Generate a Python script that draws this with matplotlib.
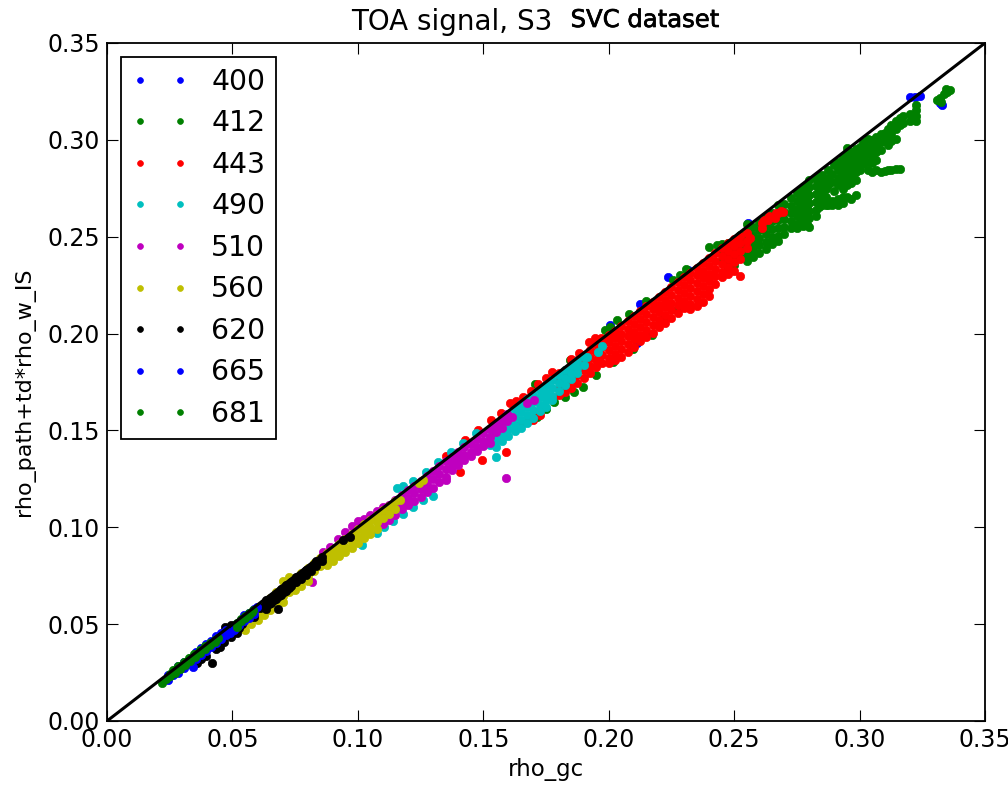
import matplotlib
matplotlib.use('Agg')
from matplotlib import pyplot as plt
from matplotlib import patheffects

labels = ['400', '412', '443', '490', '510', '560', '620', '665', '681']
colors = ['#0000ff', '#008000', '#ff0000', '#00bfbf', '#bf00bf', '#bfbf00', 'k', '#0000ff', '#008000']

# values: dense parts as (rho_gc, [rho_path+td*rho_w_IS ...]) columns, stray dots as (x, y)
cols_400 = [(.320,[.3221]),(.322,[.3221]),(.324,[.3225]),(.3329,[.318]),(.332,[.319]),(.2555,[.2571]),(.2236,[.2292]),
            (.2005,[.2044]),(.2113,[.1951]),(.2316,[.2328]),(.295,[.2922]),(.2125,[.2155])]

cols_412 = [(.1706,[.174]),(.1846,[.1864]),(.1985,[.2018]),(.2033,[.207]),(.2284,[.2302]),(.215,[.217]),(.208,[.210]),
            (.2255,[.2275]),(.231,[.2335]),(.2005,[.2035]),
            (.243,[.2457]),(.240,[.2445]),(.1714,[.157]),(.175,[.161]),(.178,[.1645]),(.1825,[.167]),(.186,[.170]),
            (.1897,[.1724]),(.195,[.1785]),(.2017,[.1853]),(.2095,[.192]),(.2173,[.1993]),(.2272,[.2122]),(.2215,[.2075]),
            (.245,[.246,.242,.238]),
            (.2475,[.2465,.2425,.2385,.2345]),
            (.250,[.2475,.2435,.2395,.2355]),
            (.2525,[.251,.247,.243,.239]),
            (.255,[.2565,.2525,.2485,.2445,.2405,.2375]),
            (.2575,[.255,.251,.247,.243,.2395]),
            (.260,[.2575,.2535,.2495,.2455,.2415]),
            (.2625,[.2595,.2555,.2515,.2475,.2435]),
            (.265,[.262,.258,.254,.250,.246]),
            (.2675,[.2665,.2625,.2585,.2545,.2505,.248]),
            (.270,[.267,.263,.259,.255,.2515]),
            (.2725,[.27,.266,.262,.258,.2545]),
            (.275,[.2725,.2685,.2645,.2605,.2565,.2545]),
            (.2765,[.2735,.2695,.2655,.2615,.2575]),
            (.2775,[.2755,.2715,.2675,.2635,.2595,.2555]),
            (.279,[.277,.273,.269,.265,.261,.2565]),
            (.280,[.2795,.2755,.2715,.2675,.2635,.2595,.255]),
            (.2825,[.28,.276,.272,.268,.264,.2605]),
            (.284,[.2815,.2775,.2735,.2695,.2655]),
            (.285,[.282,.278,.274,.270,.2665]),
            (.2875,[.2845,.2805,.2765,.2665]),
            (.2865,[.2785,.2745,.2705,.2665]),
            (.289,[.2825,.2785,.2665,.2685]),
            (.2915,[.2885,.2845,.2805,.2765,.2665,.2695]),
            (.290,[.2735,.287]),
            (.2935,[.2905,.2865,.2825,.2785,.2745,.2675,.2705]),
            (.295,[.296,.292,.288,.284,.280,.2765,.2705]),
            (.2965,[.2935,.2895,.2855,.2815,.2775,.2695]),
            (.2985,[.2955,.2915,.2875,.2835,.2795,.2715]),
            (.300,[.2965,.2925,.2885,.2845]),
            (.3015,[.299,.295,.291,.2875]),
            (.3035,[.3005,.2965,.2925,.2885,.2845]),
            (.305,[.30,.296,.292,.288,.2835]),
            (.3065,[.3015,.2975,.2935,.2895,.2845]),
            (.3085,[.303,.299,.295,.2835]),
            (.310,[.3035,.2995,.284]),
            (.3115,[.3055,.3015,.2975,.2845]),
            (.3125,[.3075,.3035,.2995,.2845]),
            (.3145,[.3095,.3055,.3005,.285]),
            (.316,[.3115,.3075,.285]),
            (.3175,[.3125,.3085]),
            (.320,[.3135,.3095]),
            (.3225,[.318,.3154,.3125,.3095]),
            (.3349,[.3247]),(.3335,[.3235]),(.332,[.3215]),(.331,[.3206]),(.3325,[.3195]),(.3345,[.326]),(.336,[.3255])]

cols_443 = [(.1674,[.1544]),(.170,[.1555]),(.1726,[.158]),(.1645,[.153]),(.1607,[.1642]),(.163,[.165]),(.166,[.167]),
            (.169,[.1705]),(.172,[.174]),(.175,[.177]),(.1774,[.1802]),(.185,[.187]),(.188,[.190]),(.1945,[.1977]),
            (.192,[.1955]),(.197,[.1975]),(.1495,[.1347]),(.159,[.1389]),(.1407,[.1285]),(.1427,[.145]),(.148,[.150]),
            (.153,[.1555]),(.135,[.137]),(.157,[.159]),
            (.180,[.1795,.1755,.1715,.1685]),
            (.1825,[.181,.177,.173,.170]),
            (.185,[.184,.180,.176,.172]),
            (.1875,[.1865,.1825,.1785,.1745]),
            (.190,[.189,.185,.181,.177]),
            (.1925,[.1915,.1875,.1835,.1795]),
            (.195,[.1945,.1905,.1865,.1825]),
            (.1975,[.197,.193,.189,.185]),
            (.200,[.1995,.1955,.1915,.1875,.185]),
            (.2025,[.2015,.1975,.1935,.1895,.1865]),
            (.205,[.204,.200,.196,.192,.188]),
            (.2075,[.2065,.2025,.1985,.1945,.1905]),
            (.210,[.209,.205,.201,.197,.193]),
            (.2125,[.2115,.2075,.2035,.1995,.196]),
            (.215,[.214,.210,.206,.202,.198]),
            (.2175,[.2165,.2125,.2085,.2045,.2005]),
            (.220,[.219,.215,.211,.207,.2035]),
            (.2225,[.2215,.2175,.2135,.2095,.2055]),
            (.225,[.224,.220,.216,.212,.208]),
            (.2275,[.2265,.2225,.2185,.2145,.2105]),
            (.230,[.229,.225,.221,.217,.213]),
            (.2325,[.2315,.2275,.2235,.2195,.2155,.2125]),
            (.235,[.234,.230,.226,.222,.218,.214]),
            (.2375,[.2365,.2325,.2285,.2245,.2205,.2165]),
            (.240,[.239,.235,.231,.227,.223,.2195]),
            (.2425,[.2415,.2375,.2335,.2295,.2255]),
            (.245,[.244,.240,.236,.232,.229]),
            (.2475,[.2465,.2425,.2385,.2345,.231]),
            (.250,[.249,.245,.241,.237,.2325]),
            (.2525,[.2505,.2465,.2425,.2385,.2295]),
            (.255,[.252,.248,.244]),
            (.2563,[.2493]),
            (.2695,[.2628]),(.2663,[.2597]),(.2675,[.2625]),(.2635,[.2585]),(.261,[.257,.2545]),(.2665,[.2625]),
            (.264,[.2605]),(.262,[.2585]),(.2685,[.2635])]

cols_490 = [(.1525,[.1505,.1465,.1425]),
            (.155,[.153,.149,.145,.1415]),
            (.1575,[.156,.152,.148,.1445]),
            (.160,[.1585,.1545,.1505,.147]),
            (.1625,[.161,.157,.153,.1495]),
            (.165,[.1635,.1595,.1555,.1515]),
            (.1675,[.166,.162,.158,.154]),
            (.170,[.1685,.1645,.1605,.1565]),
            (.1725,[.171,.167,.163,.160]),
            (.175,[.1735,.1695,.1655,.162]),
            (.1775,[.176,.172,.168,.1655]),
            (.180,[.1785,.1745,.1705]),
            (.1825,[.181,.177,.1735]),
            (.185,[.1835,.1795,.1765]),
            (.1875,[.186,.182,.1795]),
            (.190,[.188,.184]),
            (.1913,[.1879]),(.1973,[.1935]),(.1957,[.1905]),(.155,[.1363]),
            (.1156,[.1203]),(.118,[.1215]),(.122,[.124]),(.127,[.1285]),(.132,[.1335]),(.137,[.139]),(.142,[.1435]),
            (.147,[.1485]),(.1076,[.097]),(.1017,[.0909]),(.1105,[.100]),(.114,[.1035]),(.118,[.107]),(.122,[.1105]),
            (.126,[.114]),(.13,[.1161]),(.128,[.1185])]

cols_510 = [(.1614,[.157]),(.1595,[.155,.1585]),
            (.1575,[.1555,.1515]),
            (.155,[.153,.149]),
            (.1525,[.1505,.1465,.1435]),
            (.150,[.1485,.1445,.142]),
            (.1475,[.1455,.1415,.1395]),
            (.145,[.143,.139,.137]),
            (.1425,[.1415,.1375,.1345]),
            (.140,[.139,.135,.132]),
            (.1375,[.1365,.1325,.1295]),
            (.135,[.134,.130,.126,.1245]),
            (.1325,[.1315,.1275,.1235]),
            (.130,[.129,.125,.1205]),
            (.1275,[.1265,.1225,.118]),
            (.125,[.124,.120,.1155]),
            (.1225,[.1215,.1175,.1135]),
            (.120,[.119,.115,.1115]),
            (.1175,[.1165,.1125,.1095]),
            (.115,[.114,.110,.1065]),
            (.1125,[.1115,.1075,.104]),
            (.110,[.1105,.1065,.1015]),
            (.1075,[.1085,.1045]),
            (.105,[.1065]),(.1025,[.1045]),(.100,[.1035]),(.0975,[.1005]),(.095,[.0975]),(.092,[.094]),(.089,[.090]),
            (.086,[.0875]),(.1674,[.1642]),(.1702,[.1657]),(.159,[.1254]),(.0817,[.0718])]

cols_560 = [(.126,[.1244]),(.1245,[.123]),(.1168,[.1141]),
            (.115,[.1135,.1095]),
            (.1125,[.111,.107]),
            (.110,[.109,.105]),
            (.1075,[.1065,.1025,.099]),
            (.105,[.104,.100,.0965]),
            (.1025,[.1015,.0975,.0945]),
            (.100,[.099,.095,.092]),
            (.0975,[.0965,.0925,.0895]),
            (.095,[.094,.090,.087]),
            (.0925,[.0915,.0875,.085]),
            (.090,[.089,.085,.0825]),
            (.0875,[.0865,.0825,.0805]),
            (.085,[.084,.080]),
            (.0825,[.0815,.0775]),
            (.080,[.079,.075,.0725]),
            (.0775,[.0765,.0725,.0695]),
            (.075,[.074,.070,.0675]),
            (.0725,[.0745,.0705,.0665]),
            (.070,[.0725,.0685,.0645,.0615]),
            (.0675,[.0665,.0625,.0595]),
            (.065,[.0635,.0595,.0575]),
            (.0625,[.061,.057,.0545]),
            (.060,[.0555,.052]),
            (.0575,[.0535,.050]),
            (.055,[.0505,.047])]

cols_620 = [(.0969,[.095]),(.0941,[.0934]),(.0857,[.0847,.0825]),(.0835,[.0825,.080]),(.0815,[.0795,.0775]),(.0795,[.078,.0755]),
            (.0775,[.0755,.0735]),(.0755,[.0745,.0715]),(.0735,[.072,.0695]),(.0745,[.0715]),(.0715,[.070,.067]),(.0725,[.0685]),
            (.0695,[.068,.065]),(.0705,[.0665]),(.0675,[.0655,.063]),(.0685,[.0645]),(.0655,[.0635,.061]),(.0665,[.0625]),
            (.0635,[.0625,.058]),(.0645,[.0605]),(.0682,[.0578]),(.0625,[.0595]),(.061,[.0585]),(.047,[.0485]),
            (.0495,[.0495,.0435]),(.051,[.0495]),(.0505,[.0465]),(.0518,[.0454]),(.0465,[.041]),(.045,[.0382]),(.0435,[.037]),
            (.0419,[.0299]),(.0395,[.0335]),(.0375,[.032]),(.0359,[.030]),(.0525,[.048]),(.054,[.050]),(.0585,[.0535])]

cols_665 = [(.0245,[.0212,.0235]),(.0265,[.0235]),(.0285,[.025,.0285]),(.0305,[.0275,.0305]),(.0325,[.0295]),(.0343,[.0279]),
            (.0355,[.032,.0355]),(.0375,[.034,.0375]),(.0395,[.036,.0395]),(.0415,[.038,.0415]),(.0435,[.0405,.044]),
            (.0455,[.0425,.0455]),(.0475,[.0445,.047]),(.049,[.0455]),(.0505,[.047]),(.0525,[.0495]),(.0545,[.0515,.0545]),
            (.0565,[.053,.056]),(.0585,[.055,.058]),(.0598,[.0589])]

cols_681 = [(.0219,[.0196]),(.0235,[.0215]),(.025,[.023,.0245]),(.027,[.025,.0265]),(.029,[.027,.0285]),(.0265,[.0265]),(.031,[.029,.0305]),
            (.0285,[.0285]),(.033,[.031,.0325]),(.0305,[.0305]),(.035,[.033,.0345]),(.0325,[.0325]),(.037,[.035,.0365]),(.0345,[.0345]),
            (.039,[.037,.0385]),(.041,[.039,.0405]),(.043,[.041,.042]),(.0442,[.0428]),(.0518,[.0506,.0485]),(.0535,[.0515,.0525]),(.055,[.053,.054]),
            (.0565,[.0545,.0555]),(.058,[.0565]),(.0582,[.0573])]

series = [cols_400, cols_412, cols_443, cols_490, cols_510, cols_560, cols_620, cols_665, cols_681]
ticks = [0.00, 0.05, 0.10, 0.15, 0.20, 0.25, 0.30, 0.35]

fig = plt.figure(figsize=(10.08, 7.85), dpi=100)
ax = fig.add_axes([107/1008, 1-721/785, 878/1008, 678/785])

for cols, lab, col in zip(series, labels, colors):
    xs = []
    ys = []
    for x, yvals in cols:
        for y in yvals:
            xs.append(x)
            ys.append(y)
    ax.plot(xs, ys, linestyle='none', marker='o', markersize=6, markeredgecolor=col,
            markerfacecolor=col, markeredgewidth=0.5, color=col, label=lab)

ax.plot([0, 0.35], [0, 0.35], 'k', linewidth=2.2)

ax.set_xlim(0, 0.35)
ax.set_ylim(0, 0.35)
ax.set_xticks(ticks)
ax.set_yticks(ticks)
ax.set_xticklabels(['%.2f' % t for t in ticks])
ax.set_yticklabels(['%.2f' % t for t in ticks])
ax.tick_params(direction='in', top=True, right=True, length=8, width=0.8, labelsize=17, pad=5)
for s in ax.spines.values():
    s.set_linewidth(1.3)

ax.set_xlabel('rho_gc', fontsize=16.5)
ax.set_ylabel('rho_path+td*rho_w_IS', fontsize=16)
ax.xaxis.set_label_coords(0.5, -48.5/678, transform=ax.transAxes)
ax.yaxis.set_label_coords(-82/878, 0.485, transform=ax.transAxes)
ax.xaxis.label.set_va('center')
ax.yaxis.label.set_va('center')

leg = ax.legend(loc='upper left', bbox_to_anchor=(121/1008, 1-57/785), bbox_transform=fig.transFigure,
                numpoints=2, fontsize=20.3, fancybox=False, framealpha=1, edgecolor='k', borderaxespad=0,
                borderpad=0.38, labelspacing=0.48, handlelength=2.0, handletextpad=0.82, markerscale=0.7)
leg.get_frame().set_linewidth(1.3)

fig.text(452/1008, 1-22/785, 'TOA signal, S3', fontsize=20, ha='center', va='center')
fig.text(645/1008, 1-20/785, 'SVC dataset', fontsize=17.5, ha='center', va='center',
         path_effects=[patheffects.withStroke(linewidth=0.5, foreground='k')])

fig.savefig('out.png', dpi=100)
